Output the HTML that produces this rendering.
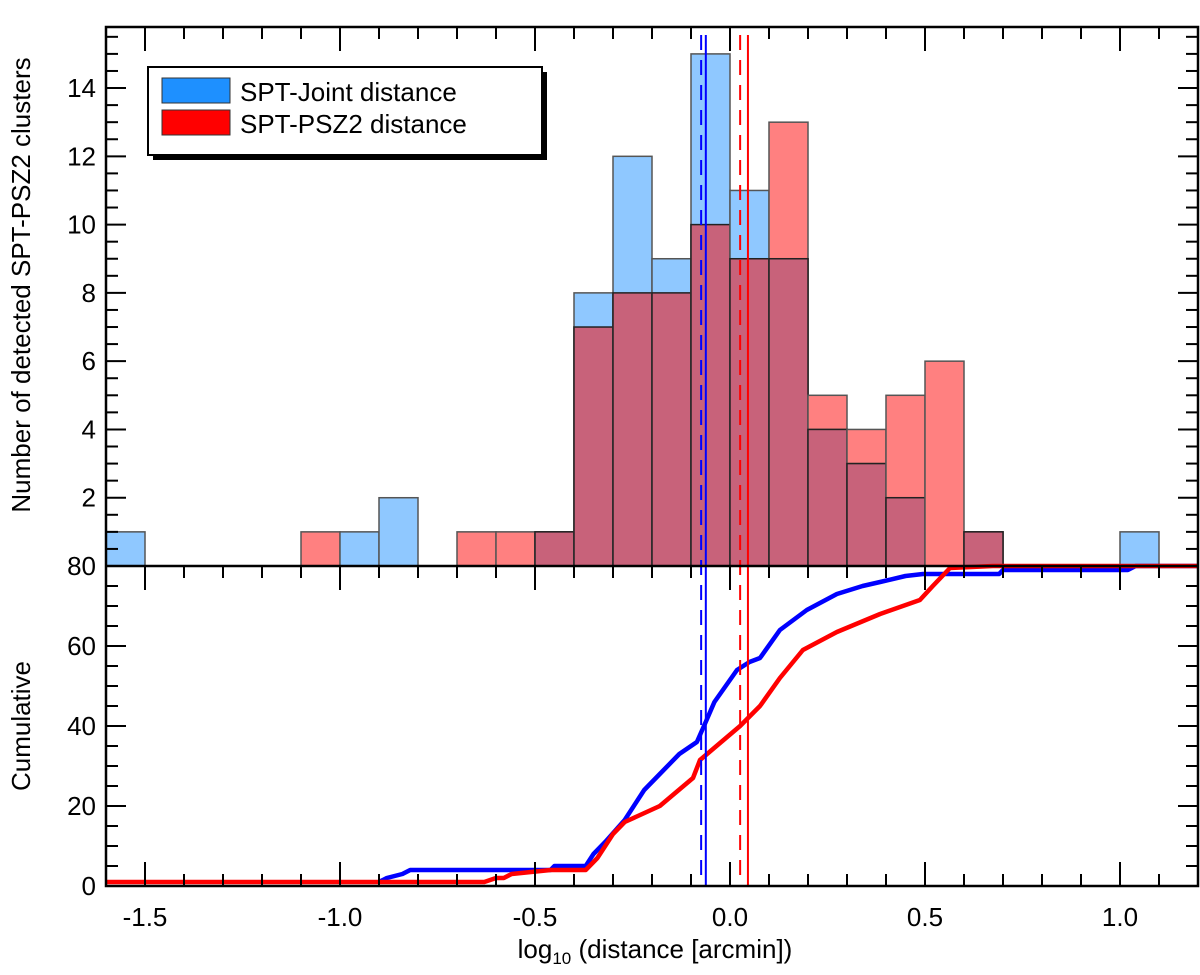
<!DOCTYPE html>
<html><head><meta charset="utf-8"><style>
body{margin:0;background:#fff}
svg text{font-family:"Liberation Sans",sans-serif;fill:#000}
</style></head><body>
<svg id="c" width="1200" height="970" xmlns="http://www.w3.org/2000/svg"></svg>
<script>
const binStarts=[-1.6,-1.5,-1.4,-1.3,-1.2,-1.1,-1.0,-0.9,-0.8,-0.7,-0.6,-0.5,-0.4,-0.3,-0.2,-0.1,0.0,0.1,0.2,0.3,0.4,0.5,0.6,0.7,0.8,0.9,1.0,1.1];
const blueCounts=[1,0,0,0,0,0,1,2,0,0,0,1,8,12,9,15,11,9,4,3,2,0,1,0,0,0,1,0];
const redCounts=[0,0,0,0,0,1,0,0,0,1,1,1,7,8,8,10,9,13,5,4,5,6,1,0,0,0,0,0];
const blueCumX=[-0.9,-0.88,-0.84,-0.82,-0.46,-0.45,-0.37,-0.35,-0.32,-0.27,-0.22,-0.18,-0.13,-0.085,-0.06,-0.04,0.018,0.05,0.077,0.128,0.197,0.274,0.34,0.385,0.45,0.495,0.69,0.7,1.02,1.04,1.2];
const blueCumY=[1,2,3,4,4,5,5,8,11,16.5,24,28,33,36,41.5,46,54,56,57,64,69,73,75,76,77.5,78,78,79,79,80,80];
const redCumX=[-1.6,-0.63,-0.6,-0.58,-0.56,-0.46,-0.37,-0.34,-0.3,-0.27,-0.18,-0.095,-0.077,0.026,0.077,0.128,0.187,0.274,0.385,0.487,0.52,0.564,0.674,1.2];
const redCumY=[1,1,2,2,3,4,4,7,13,16,20,27,31.5,40,45,52,59,63.5,68,71.5,75,79.5,80,80];
const meanLines=[{v:-0.074,c:'#0000ff',dash:true},{v:-0.062,c:'#0000ff',dash:false},{v:0.026,c:'#ff0000',dash:true},{v:0.046,c:'#ff0000',dash:false}];
const xTicks=[-1.5,-1.0,-0.5,0.0,0.5,1.0];
const yTopTicks=[2,4,6,8,10,12,14];
const yBotTicks=[0,20,40,60,80];

const svg=document.getElementById('c');
const NS='http://www.w3.org/2000/svg';
const L=106,R=1198,T=27,M=566,B=886;
const X=v=>730+390*v;
const Yt=c=>566-34.14*c;
const Yb=c=>886-4*c;
function el(tag,a,p){const e=document.createElementNS(NS,tag);for(const k in a)e.setAttribute(k,a[k]);(p||svg).appendChild(e);return e;}

const gh=el('g',{});


binStarts.forEach((s,i)=>{
  const x0=X(s),w=X(s+0.1)-X(s);
  const b=blueCounts[i],r=redCounts[i],m=Math.min(b,r);
  if(r>0){const e=el('rect',{x:x0,y:Yt(r),width:w,height:Yt(0)-Yt(r),fill:'#ff8080',stroke:'#555','stroke-width':1.5},gh);
    }
  if(b>0){const e=el('rect',{x:x0,y:Yt(b),width:w,height:Yt(0)-Yt(b),fill:'#8fc8ff',stroke:'#555','stroke-width':1.5},gh);
    }
  if(m>0){const e=el('rect',{x:x0,y:Yt(m),width:w,height:Yt(0)-Yt(m),fill:'#c8627a',stroke:'#222','stroke-width':1.5},gh);
    }
});
function cum(xs,ys,col,name){
  const d=xs.map((v,i)=>(i?'L':'M')+X(v).toFixed(1)+' '+Yb(ys[i]).toFixed(1)).join(' ');
  const p=el('path',{d:d,fill:'none',stroke:col,'stroke-width':4.5,'stroke-linejoin':'round'});
  
}
cum(blueCumX,blueCumY,'#0000ff','blue-cumulative-line');
cum(redCumX,redCumY,'#ff0000','red-cumulative-line');
meanLines.forEach(m=>{
  const e=el('line',{x1:X(m.v),x2:X(m.v),y1:35,y2:B,stroke:m.c,'stroke-width':2,'stroke-dasharray':m.dash?'15 10':'none'});
  
});
el('rect',{x:L,y:T,width:R-L,height:B-T,fill:'none',stroke:'#000','stroke-width':2.5});
el('line',{x1:L,x2:R,y1:M,y2:M,stroke:'#000','stroke-width':2.5});
for(let k=-16;k<=12;k++){
  const v=k/10,x=X(v),maj=(k%5===0),len=maj?24:12;
  el('line',{x1:x,x2:x,y1:T,y2:T+len,stroke:'#000','stroke-width':2});
  el('line',{x1:x,x2:x,y1:M,y2:M+len,stroke:'#000','stroke-width':2});
  el('line',{x1:x,x2:x,y1:B,y2:B-len,stroke:'#000','stroke-width':2});
}
for(let c=0.5;c<15.8;c+=0.5){const maj=(c%2===0),len=maj?20:12,y=Yt(c);
  el('line',{x1:L,x2:L+len,y1:y,y2:y,stroke:'#000','stroke-width':2});
  el('line',{x1:R,x2:R-len,y1:y,y2:y,stroke:'#000','stroke-width':2});}
for(let c=5;c<80;c+=5){const maj=(c%20===0),len=maj?20:12,y=Yb(c);
  el('line',{x1:L,x2:L+len,y1:y,y2:y,stroke:'#000','stroke-width':2});
  el('line',{x1:R,x2:R-len,y1:y,y2:y,stroke:'#000','stroke-width':2});}
xTicks.forEach(v=>{const t=el('text',{x:X(v),y:926,'font-size':26,'text-anchor':'middle'});t.textContent=v.toFixed(1);
  });
yTopTicks.forEach(v=>{const t=el('text',{x:96,y:Yt(v)+9,'font-size':26,'text-anchor':'end'});t.textContent=v;
  });
yBotTicks.forEach(v=>{const t=el('text',{x:96,y:Yb(v)+9,'font-size':26,'text-anchor':'end'});t.textContent=v;
  });
</script>
<svg width="1200" height="970" style="position:absolute;left:0;top:0" xmlns="http://www.w3.org/2000/svg">
<text x="655" y="958" font-size="26" text-anchor="middle">log<tspan font-size="17" dy="6">10</tspan><tspan dy="-6"> (distance [arcmin])</tspan></text>
<text transform="translate(30,285) rotate(-90)" font-size="26" text-anchor="middle">Number of detected SPT-PSZ2 clusters</text>
<text transform="translate(30,726) rotate(-90)" font-size="26" text-anchor="middle">Cumulative</text>
<g>
<rect x="153" y="72" width="394" height="88" fill="#000"/>
<rect x="148" y="67" width="394" height="88" fill="#fff" stroke="#000" stroke-width="2"/>
<rect x="162" y="78" width="68" height="25" fill="#1e90ff" stroke="#333"/>
<text x="240" y="101" font-size="26">SPT-Joint distance</text>
<rect x="162" y="110" width="68" height="25" fill="#ff0000" stroke="#333"/>
<text x="240" y="133" font-size="26">SPT-PSZ2 distance</text>
</g>
</svg>
</body></html>
